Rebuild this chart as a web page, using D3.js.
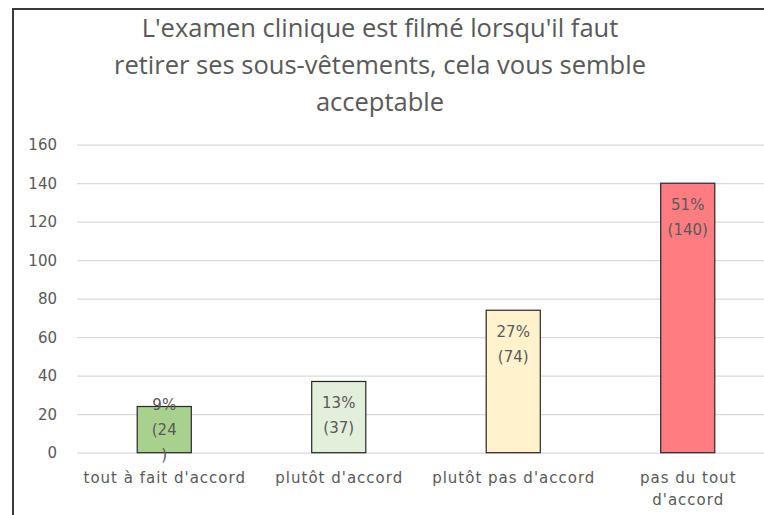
<!DOCTYPE html>
<html>
<head>
<meta charset="utf-8">
<script src="https://cdn.jsdelivr.net/npm/d3@7"></script>
<style>
  body { margin: 0; background: #fff; }
  svg { display: block; font-family: "DejaVu Sans", sans-serif; }
</style>
</head>
<body>
<div id="chart"></div>
<script>
// chart data
const categories = ["tout à fait d'accord", "plutôt d'accord", "plutôt pas d'accord", "pas du tout d'accord"];
const counts = [24, 37, 74, 140];
const percents = ["9%", "13%", "27%", "51%"];
const barColors = ["#a9d18e", "#e2efda", "#fff2cc", "#ff7c80"];
const yTicks = [0, 20, 40, 60, 80, 100, 120, 140, 160];
const titleLines = ["L'examen clinique est filmé lorsqu'il faut",
                    "retirer ses sous-vêtements, cela vous semble",
                    "acceptable"];

const W = 764, H = 515;
const textColor = "#595959";

const svg = d3.select("#chart").append("svg")
  .attr("width", W)
  .attr("height", H);

// chart frame (cropped at right and bottom)
svg.append("path")
  .attr("d", `M13,${H} L13,9 L${W},9`)
  .attr("fill", "none")
  .attr("stroke", "#3a3a3a")
  .attr("stroke-width", 2);

// title
svg.append("g").selectAll("text")
  .data(titleLines)
  .join("text")
  .attr("x", 380)
  .attr("y", (d, i) => 36.5 + i * 37)
  .attr("text-anchor", "middle")
  .attr("font-family", "Open Sans, sans-serif")
  .attr("font-size", 25.5)
  .attr("fill", textColor)
  .text(d => d);

// scales
const x = d3.scaleBand()
  .domain(categories)
  .range([77, 775])
  .paddingInner(0.69)
  .paddingOuter(0.345);

const y = d3.scaleLinear()
  .domain([0, 160])
  .range([452.7, 144.7]);

// gridlines + y labels
const yAxis = svg.append("g")
  .attr("transform", "translate(77,0)")
  .call(d3.axisLeft(y).tickValues(yTicks).tickSize(-(W - 77)).tickPadding(20));
yAxis.select(".domain").remove();
yAxis.selectAll(".tick line").attr("stroke", "#d9d9d9").attr("stroke-width", 1.3);
yAxis.selectAll(".tick text")
  .attr("fill", textColor)
  .attr("font-size", 15)
  .attr("font-family", "DejaVu Sans, sans-serif");

// bars
svg.append("g").selectAll("rect")
  .data(counts)
  .join("rect")
  .attr("x", (d, i) => x(categories[i]))
  .attr("y", d => y(d))
  .attr("width", x.bandwidth())
  .attr("height", d => y(0) - y(d))
  .attr("fill", (d, i) => barColors[i])
  .attr("stroke", "#262626")
  .attr("stroke-width", 1.2);

// data labels: wrapped like Excel when the bar is narrow
const lineH = 25;
counts.forEach(function(v, i) {
  var lines = [percents[i], "(" + v + ")"];
  if (v < 30) lines = [percents[i], "(" + v, ")"];
  var top = y(v), bottom = y(0);
  var blockH = lines.length * lineH;
  var first;
  if (blockH + 8 > bottom - top) {
    // does not fit: centre the block in the bar
    first = (top + bottom) / 2 - blockH / 2 + lineH / 2;
  } else {
    first = top + 21.5;
  }
  svg.append("g").selectAll("text")
    .data(lines)
    .join("text")
    .attr("x", x(categories[i]) + x.bandwidth() / 2)
    .attr("y", (d, k) => first + k * lineH)
    .attr("dy", "0.35em")
    .attr("text-anchor", "middle")
    .attr("font-size", 15)
    .attr("fill", textColor)
    .text(d => d);
});

// category labels
const catLines = categories.map(c => c === "pas du tout d'accord" ? ["pas du tout", "d'accord"] : [c]);
catLines.forEach(function(lines, i) {
  svg.append("g").selectAll("text")
    .data(lines)
    .join("text")
    .attr("x", x(categories[i]) + x.bandwidth() / 2 + 0.5)
    .attr("y", (d, k) => 478 + k * 22)
    .attr("dy", "0.35em")
    .attr("text-anchor", "middle")
    .attr("font-size", 15)
    .attr("letter-spacing", 1)
    .attr("fill", textColor)
    .text(d => d);
});
</script>
</body>
</html>
